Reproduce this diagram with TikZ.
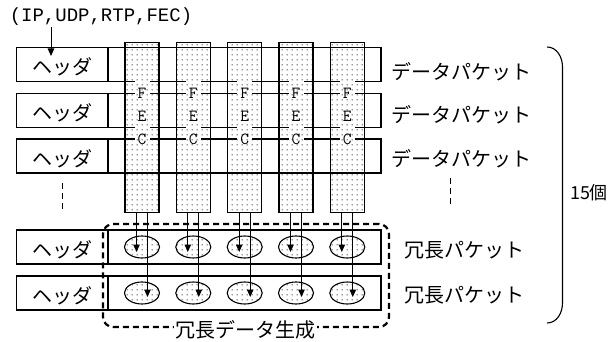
\documentclass[tikz,border=0pt]{standalone}
\usepackage{fontspec}
\newfontfamily\jp{Noto Sans CJK JP}
\newfontfamily\monof{Liberation Mono}
\usetikzlibrary{patterns.meta,arrows.meta,shapes.geometric}
\tikzdeclarepattern{name=fdots, type=uncolored,
  bounding box={(0pt,0pt) and (5pt,5pt)}, tile size={(5pt,5pt)},
  code={\fill (2.5pt,2.5pt) circle (0.8pt);}}
\begin{document}
\begin{tikzpicture}[x=1pt,y=-1pt,line width=1.1pt,
  box/.style={draw, rectangle, minimum height=34pt, inner sep=0pt, outer sep=0pt},
  colbox/.style={draw, rectangle, minimum width=34pt, minimum height=170pt, inner sep=0pt, outer sep=0pt, pattern=fdots, pattern color=black!80},
  stripbox/.style={fill=white, rectangle, minimum width=15pt, minimum height=69pt, inner sep=0pt},
  ellbox/.style={draw, ellipse, minimum width=35pt, minimum height=22pt, inner sep=0pt, outer sep=0pt, pattern=fdots, pattern color=black!80},
  jpt/.style={font=\jp\fontsize{20pt}{23pt}\selectfont, inner sep=0pt},
  fec/.style={font=\ttfamily\fontsize{17pt}{19pt}\selectfont, inner sep=0pt},
  arr/.style={-{Triangle[length=7.5pt,width=6.5pt]}, line width=1pt},
  vdash/.style={line width=1pt, dash pattern=on 6pt off 4pt},
  genbox/.style={draw, rectangle, rounded corners=10pt, line width=2.2pt, dash pattern=on 6pt off 4pt, minimum width=286pt, minimum height=103pt, inner sep=0pt}
]
\useasboundingbox (0,0) rectangle (610,342);
% packet rows
\foreach \i/\y in {1/64.7,2/110.3,3/156,4/247,5/293} {
  \node[box, minimum width=364.3pt] (p\i) at (198.85,\y) {};
  \node[box, minimum width=91.3pt] (h\i) at (62.35,\y) {};
  \node[jpt] (ht\i) at (62.5,\y+2.5) {ヘッダ};
}
% redundancy frame
\node[genbox] (gen) at (246,275.5) {};
\node[jpt, fill=white, inner sep=1.5pt] (genl) at (245,330) {冗長データ生成};
% columns
\foreach \i/\x in {1/142,2/193.3,3/244.7,4/296,5/347.3} {
  \node[stripbox] (s\i) at (\x,111.5) {};
  \node[colbox] (c\i) at (\x,127.7) {};
  \node[fec] (f\i) at (\x,93) {F};
  \node[fec] (ee\i) at (\x,116.7) {E};
  \node[fec] (cc\i) at (\x,139) {C};
  \node[ellbox] (ea\i) at (\x,247) {};
  \node[ellbox] (eb\i) at (\x,293) {};
  \draw[arr] ([xshift=-5.5pt]c\i.south) -- ([xshift=-5.5pt,yshift=-5pt]ea\i.center);
  \draw[arr] ([xshift=5.5pt]c\i.south) -- ([xshift=5.5pt,yshift=-4pt]eb\i.center);
}
% right labels
\node[jpt, anchor=west] (d1) at (391,71.7) {データパケット};
\node[jpt, anchor=west] (d2) at (391,115) {データパケット};
\node[jpt, anchor=west] (d3) at (391,158.3) {データパケット};
\node[jpt, anchor=west] (r1) at (404,250) {冗長パケット};
\node[jpt, anchor=west] (r2) at (404,295) {冗長パケット};
% dashed continuations
\coordinate (v1a) at (62,183); \coordinate (v1b) at (62,212);
\coordinate (v2a) at (450,178); \coordinate (v2b) at (450,205);
\draw[vdash] (v1a) -- (v1b);
\draw[vdash] (v2a) -- (v2b);
% header label and arrow
\node[font=\monof\fontsize{19pt}{22pt}\selectfont, inner sep=0pt] (lbl) at (101,16.7) {(IP,UDP,RTP,FEC)};
\coordinate (a0) at (51,27); \coordinate (a1) at (51,56);
\draw[arr] (a0) -- (a1);
% brace
\coordinate (bt) at (547,47); \coordinate (bb) at (547,323);
\draw[line width=1.1pt] (bt) to[out=0,in=90] (562.5,67) -- (562.5,303) to[out=-90,in=0] (bb);
\node[font=\jp\fontsize{18pt}{20pt}\selectfont, inner sep=0pt] (cnt) at (589,193) {15個};
\end{tikzpicture}
\end{document}
